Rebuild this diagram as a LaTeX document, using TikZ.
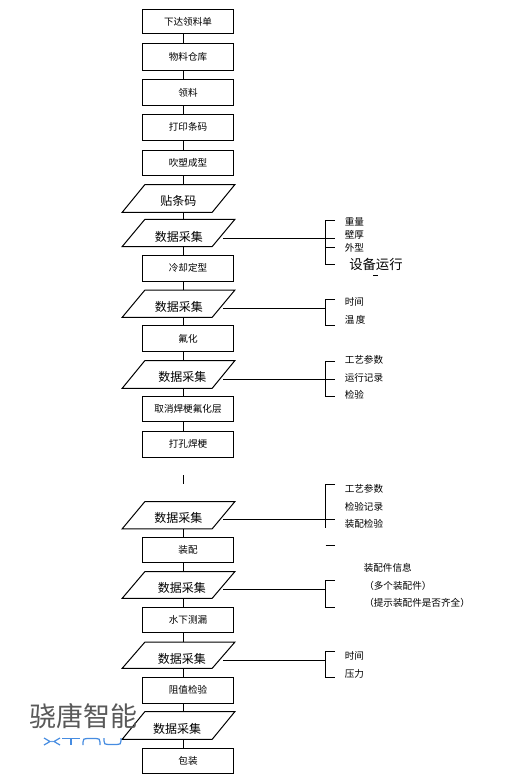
\documentclass[tikz,border=0pt]{standalone}
\usepackage{fontspec}
\setmainfont{Noto Sans CJK SC}
\definecolor{logoblue}{RGB}{70,140,225}
\tikzset{
  ln/.style={line width=0.75pt,black},
  stepbox/.style={draw,ln,rectangle,minimum width=68.25pt,inner sep=0pt,font=\fontsize{7.2}{8}\selectfont},
  para/.style={rectangle,minimum width=84pt,inner sep=0pt},
  ptext/.style={inner sep=0pt,font=\fontsize{9}{10}\selectfont},
  side/.style={inner sep=0pt,anchor=west,font=\fontsize{7.2}{8}\selectfont},
}
\begin{document}
\begin{tikzpicture}[x=0.75pt,y=-0.75pt]
\useasboundingbox (0,0) rectangle (528,774);
\coordinate (spine) at (183.5,0);
\coordinate (linestart) at (223.25,0);
% boxes: centre y and height in px
\foreach \n/\y/\h/\t in {
 b1/21.75/24.5/下达领料单, b2/57.25/26.5/物料仓库, b3/92.5/26/领料, b4/127.25/25.5/打印条码,
 b5/162.5/25/吹塑成型, b6/268/26/冷却定型, b7/338.5/26/氟化, b8/408.75/25.5/取消焊梗氟化层,
 b9/444.25/26.5/打孔焊梗, b10/550/25/装配, b11/619.75/25.5/水下测漏, b12/690/26/阻值检验, b13/760.5/25/包装}
 {\node[stepbox,minimum height=\h*0.75pt] (\n) at (188,\y) {\t};}
% parallelograms
\foreach \n/\y/\h in {p1/198.5/27, p2/233/26.5, p3/303.75/26.5, p4/374.5/27, p5/515.25/26.5,
 p6/585/26, p7/655.25/25.5, p8/725.5/27}
 {\node[para,minimum height=\h*0.75pt] (\n) at (178.5,\y) {};
  \draw[ln] (\n.south west) -- ([xshift=16.9pt]\n.north west) -- (\n.north east) -- ([xshift=-16.9pt]\n.south east) -- cycle;}
\node[ptext] (t1) at (178.3,200.5) {贴条码};
\node[ptext] (t2) at (178.8,237) {数据采集};
\node[ptext] (t3) at (178.8,307.3) {数据采集};
\node[ptext] (t4) at (182.3,377.3) {数据采集};
\node[ptext] (t5) at (178.3,518.3) {数据采集};
\node[ptext] (t6) at (181.8,588) {数据采集};
\node[ptext] (t7) at (181.8,659.3) {数据采集};
\node[ptext] (t8) at (177,729.3) {数据采集};
% vertical flow connectors
\foreach \a/\b in {b1/b2,b2/b3,b3/b4,b4/b5,b5/p1,p1/p2,p2/b6,b6/p3,p3/b7,b7/p4,p4/b8,b8/b9,
  p5/b10,b10/p6,p6/b11,b11/p7,p7/b12,b12/p8,p8/b13}
 {\draw[ln] (\a.south -| spine) -- (\b.north -| spine);}
\coordinate (gapa) at (183.5,475);
\coordinate (gapb) at (183.5,484);
\draw[ln] (gapa) -- (gapb);
% brackets
\coordinate (m2) at (335,238.5);
\coordinate (m3) at (325.7,308.5);
\coordinate (m4) at (335,379);
\coordinate (m5) at (335,519.5);
\coordinate (m6) at (325.7,589.5);
\coordinate (m7) at (325.7,660.5);
\foreach \m in {m2,m3,m4,m5,m6,m7}
 {\draw[ln] (linestart |- \m) -- (\m);}
\draw[ln] (335,220.5) -- (325.7,220.5) -- (325.7,264.5) -- (335,264.5) (325.7,247) -- (335,247);
\draw[ln] (335,299.5) -- (325.7,299.5) -- (325.7,325.5) -- (335,325.5);
\draw[ln] (335,361.5) -- (325.7,361.5) -- (325.7,396) -- (335,396);
\draw[ln] (335,484.5) -- (325.7,484.5) -- (325.7,527.5);
\draw[ln] (325.5,545.3) -- (335,545.3);
\draw[ln] (335,580.5) -- (325.7,580.5) -- (325.7,607.5) -- (335,607.5);
\draw[ln] (335,651.5) -- (325.7,651.5) -- (325.7,677.5) -- (335,677.5);
\draw[ln] (373,275) -- (378,275);
% side labels
\foreach \n/\x/\y/\t in {
 s1/344.5/222/重量, s2/344.5/235/壁厚, s3/344.5/248/外型,
 s4/344.5/301.7/时间, s5/344.5/320/温\,度,
 s6/344.5/359.5/工艺参数, s7/344.5/378/运行记录, s8/344.5/395/检验,
 s9/344.5/488.5/工艺参数, s10/344.5/506.5/检验记录, s11/344.5/523.5/装配检验,
 s12/363.5/567.7/装配件信息, s13/364/585.5/（多个装配件）, s14/364/602.7/（提示装配件是否齐全）,
 s15/344.5/655.5/时间, s16/344.5/673.5/压力}
 {\node[side] (\n) at (\x,\y) {\t};}
\node[inner sep=0pt,anchor=west,font=\fontsize{10}{11}\selectfont] (s17) at (349,264) {设备运行};
% watermark
\node[inner sep=0pt,anchor=west,text=black!65,font=\fontsize{20.25}{22}\selectfont] (wm) at (29,716) {骁唐智能};
\begin{scope}[line width=0.9pt,color=logoblue]
 \draw (44,738) -- (50,741.5) -- (44,745);
 \draw (60,738) -- (54,741.5) -- (60,745);
 \fill[logoblue] (52,741.5) circle (0.8);
 \draw (62,738.5) -- (80,738.5) (71,738.5) -- (71,745);
 \draw (83,745) -- (83,742) .. controls (83,739) and (84,738.5) .. (87,738.5) -- (96,738.5) .. controls (99,738.5) and (100,739) .. (100,742) -- (100,745);
 \draw (104,738) -- (104,741) .. controls (104,744) and (105,744.5) .. (108,744.5) -- (117,744.5) .. controls (120,744.5) and (121,744) .. (121,741) -- (121,738);
\end{scope}
\end{tikzpicture}
\end{document}
